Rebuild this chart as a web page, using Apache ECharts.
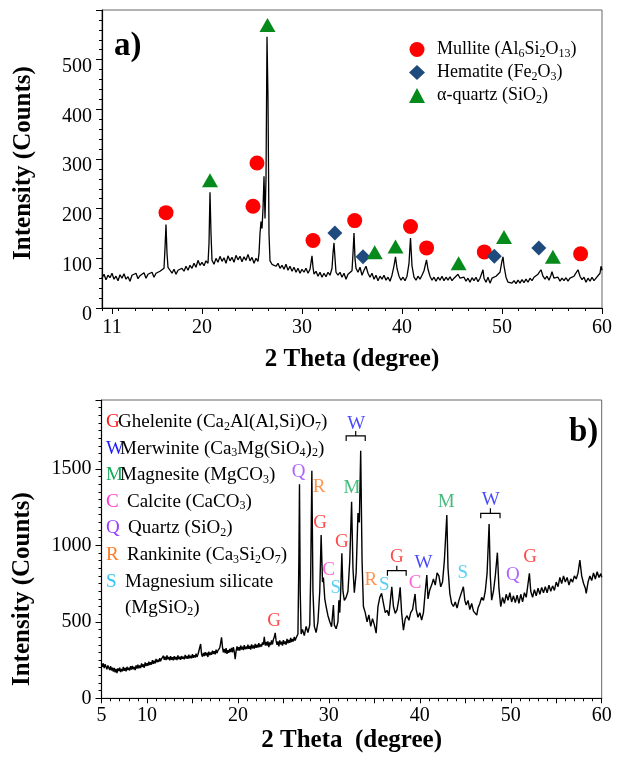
<!DOCTYPE html>
<html><head><meta charset="utf-8">
<script src="https://cdn.jsdelivr.net/npm/echarts@6/dist/echarts.min.js"></script>
<style>html,body{margin:0;padding:0;background:#fff}#c{width:620px;height:758px}</style>
</head><body><div id="c"></div>
<script>
const FONT = '"Liberation Serif", "Times New Roman", serif';

// ---------- panel a) ----------
const patternA = [
[10.0,60],[10.2,68],[10.4,57],[10.6,66],[10.8,61],[11.0,70],[11.2,58],[11.4,64],[11.6,55],[11.8,67],
[12.0,60],[12.2,69],[12.4,58],[12.6,63],[12.8,54],[13.0,66],[13.2,62],[13.4,70],[13.6,59],[13.8,65],
[14.0,63],[14.2,71],[14.4,60],[14.6,68],[14.8,64],[15.0,72],[15.2,62],[15.4,70],[15.6,66],[15.8,74],
[16.0,70],[16.2,80],[16.3,120],[16.4,168],[16.5,110],[16.6,82],[16.8,76],[17.0,70],[17.2,78],[17.4,68],
[17.6,76],[17.8,72],[18.0,80],[18.2,74],[18.4,84],[18.6,76],[18.8,86],[19.0,80],[19.2,90],[19.4,82],
[19.6,96],[19.8,86],[20.0,92],[20.2,85],[20.4,95],[20.6,90],[20.7,130],[20.8,233],[20.9,150],[21.0,96],
[21.2,88],[21.4,100],[21.6,92],[21.8,104],[22.0,94],[22.2,101],[22.4,90],[22.6,105],[22.8,95],[23.0,102],
[23.2,92],[23.4,106],[23.6,97],[23.8,104],[24.0,93],[24.2,103],[24.4,96],[24.6,108],[24.8,95],[25.0,102],
[25.2,90],[25.4,100],[25.6,94],[25.7,110],[25.8,150],[25.9,174],[26.0,160],[26.1,200],[26.2,265],[26.3,180],
[26.4,260],[26.5,546],[26.6,420],[26.7,150],[26.8,95],[27.0,88],[27.2,92],[27.4,84],[27.6,90],[27.8,80],
[28.0,86],[28.2,78],[28.4,88],[28.6,76],[28.8,84],[29.0,74],[29.2,82],[29.4,72],[29.6,80],[29.8,70],
[30.0,78],[30.2,72],[30.4,80],[30.6,70],[30.8,78],[31.0,105],[31.1,82],[31.2,68],[31.4,74],[31.6,64],
[31.8,72],[32.0,62],[32.2,70],[32.4,63],[32.6,72],[32.8,66],[33.0,80],[33.1,110],[33.2,131],[33.3,100],
[33.4,72],[33.6,66],[33.8,72],[34.0,62],[34.2,70],[34.4,58],[34.6,68],[34.8,64],[35.0,75],[35.1,110],
[35.2,151],[35.3,100],[35.4,80],[35.6,72],[35.8,82],[36.0,66],[36.2,76],[36.4,84],[36.6,70],[36.8,62],
[37.0,70],[37.2,58],[37.4,66],[37.6,55],[37.8,64],[38.0,58],[38.2,66],[38.4,56],[38.6,62],[38.8,54],
[39.0,66],[39.2,85],[39.35,103],[39.5,80],[39.7,64],[39.9,56],[40.1,62],[40.3,55],[40.5,64],[40.7,90],
[40.85,141],[41.0,85],[41.2,62],[41.4,56],[41.6,64],[41.8,58],[42.0,66],[42.2,75],[42.45,97],[42.6,78],
[42.8,64],[43.0,56],[43.2,62],[43.4,54],[43.6,62],[43.8,56],[44.0,64],[44.2,55],[44.4,62],[44.6,56],
[44.8,63],[45.0,55],[45.2,60],[45.4,63],[45.6,68],[45.8,60],[46.0,56],[46.2,62],[46.4,54],[46.6,60],
[46.8,52],[47.0,61],[47.2,55],[47.4,62],[47.6,53],[47.8,60],[48.0,58],[48.1,77],[48.2,60],[48.4,52],
[48.6,62],[48.8,50],[49.0,60],[49.2,56],[49.4,64],[49.6,60],[49.8,72],[50.0,95],[50.1,103],[50.2,85],
[50.4,62],[50.6,52],[50.8,56],[51.0,50],[51.2,55],[51.4,49],[51.6,56],[51.8,50],[52.0,57],[52.2,51],
[52.4,58],[52.6,52],[52.8,60],[53.0,55],[53.2,62],[53.4,60],[53.6,68],[53.8,72],[53.9,77],[54.1,64],
[54.3,58],[54.5,64],[54.7,56],[54.9,66],[55.0,73],[55.2,60],[55.4,56],[55.6,62],[55.8,54],[56.0,60],
[56.2,55],[56.4,61],[56.6,54],[56.8,60],[57.0,56],[57.2,64],[57.4,68],[57.6,77],[57.8,64],[58.0,57],
[58.2,62],[58.4,52],[58.6,60],[58.8,54],[59.0,62],[59.2,55],[59.4,60],[59.6,56],[59.8,70],[59.9,84],[60.0,76]
];
const mullite  = [[16.4,192],[25.1,205],[25.5,292],[31.1,136],[35.27,176],[40.85,164],[42.46,121],[48.23,113],[57.86,109]];
const hematite = [[33.29,151],[36.1,103],[49.23,104],[53.68,121]];
const quartz   = [[20.8,257],[26.55,570],[37.27,112],[39.35,124],[45.66,90],[50.2,143],[55.09,103]];
const xLabelsA = [11,20,30,40,50,60];

// ---------- panel b) ----------
const patternB = [
[5.0,230],[5.1,205],[5.2,228],[5.3,198],[5.4,222],[5.5,212],[5.6,190],[5.7,215],[5.8,200],[5.9,185],
[6.0,210],[6.1,182],[6.2,200],[6.3,175],[6.4,198],[6.5,170],[6.6,192],[6.7,165],[6.8,195],[6.9,178],
[7.0,200],[7.1,172],[7.2,192],[7.3,176],[7.4,205],[7.5,180],[7.6,198],[7.7,176],[7.8,206],[7.9,185],
[8.0,200],[8.1,182],[8.2,210],[8.3,188],[8.4,212],[8.5,190],[8.6,205],[8.7,185],[8.8,215],[8.9,195],
[9.0,220],[9.1,196],[9.2,215],[9.3,198],[9.4,228],[9.5,205],[9.6,222],[9.7,200],[9.8,235],[9.9,210],
[10.0,230],[10.1,212],[10.2,240],[10.3,218],[10.4,236],[10.5,220],[10.6,250],[10.7,226],[10.8,246],[10.9,228],
[11.0,258],[11.1,235],[11.2,252],[11.3,238],[11.4,262],[11.5,242],[11.6,258],[11.7,250],[11.8,278],[11.9,252],
[12.0,272],[12.1,250],[12.2,280],[12.3,255],[12.4,270],[12.5,248],[12.6,276],[12.7,252],[12.8,268],[12.9,248],
[13.0,275],[13.1,254],[13.2,270],[13.3,250],[13.4,280],[13.5,256],[13.6,272],[13.7,252],[13.8,276],[13.9,258],
[14.0,272],[14.1,255],[14.2,284],[14.3,260],[14.4,276],[14.5,258],[14.6,285],[14.7,262],[14.8,278],[14.9,262],
[15.0,288],[15.1,265],[15.2,282],[15.3,266],[15.4,292],[15.5,270],[15.6,285],[15.7,272],[15.8,296],[15.9,355],
[16.0,290],[16.1,272],[16.2,296],[16.3,276],[16.4,302],[16.5,280],[16.6,298],[16.7,270],[16.8,305],[16.9,282],
[17.0,300],[17.1,284],[17.2,312],[17.3,290],[17.4,308],[17.5,288],[17.6,318],[17.7,295],[17.8,312],[17.9,300],
[18.0,330],[18.1,360],[18.2,398],[18.3,335],[18.4,300],[18.5,322],[18.6,296],[18.7,328],[18.8,290],[18.9,315],
[19.0,298],[19.1,322],[19.2,302],[19.3,330],[19.4,300],[19.5,335],[19.6,305],[19.7,255],[19.8,308],[19.9,340],
[20.0,312],[20.1,335],[20.2,312],[20.3,345],[20.4,318],[20.5,338],[20.6,315],[20.7,348],[20.8,320],[20.9,338],
[21.0,322],[21.1,350],[21.2,324],[21.3,342],[21.4,318],[21.5,352],[21.6,326],[21.7,345],[21.8,325],[21.9,355],
[22.0,330],[22.1,350],[22.2,332],[22.3,360],[22.4,335],[22.5,352],[22.6,338],[22.7,365],[22.8,350],[22.9,402],
[23.0,345],[23.1,368],[23.2,345],[23.3,372],[23.4,335],[23.5,365],[23.6,348],[23.7,378],[23.8,352],[23.9,385],
[24.0,400],[24.1,428],[24.2,375],[24.3,350],[24.4,372],[24.5,340],[24.6,378],[24.7,352],[24.8,370],[24.9,345],
[25.0,380],[25.1,355],[25.2,372],[25.3,350],[25.4,388],[25.5,360],[25.6,382],[25.7,362],[25.8,395],[25.9,368],
[26.0,388],[26.1,372],[26.2,402],[26.3,378],[26.4,395],[26.5,382],[26.6,420],
[26.7,900],[26.77,1400],[26.85,700],[26.95,420],[27.1,450],[27.3,410],[27.5,470],[27.7,430],
[27.9,480],[28.0,800],[28.13,1488],[28.25,700],[28.4,470],[28.6,430],[28.8,500],[29.0,700],[29.15,1067],[29.3,760],
[29.4,790],[29.55,650],[29.7,600],[29.9,540],[30.1,500],[30.3,468],[30.5,610],[30.6,480],[30.8,455],[31.0,500],
[31.1,640],[31.2,560],[31.3,700],[31.43,948],[31.55,700],[31.7,640],[31.9,660],[32.1,700],[32.3,900],[32.5,1285],
[32.65,850],[32.8,690],[33.0,820],[33.2,1211],[33.35,1150],[33.5,1618],[33.65,900],[33.8,600],[34.0,560],[34.2,500],
[34.4,545],[34.6,470],[34.8,520],[35.0,480],[35.2,426],[35.4,600],[35.6,660],[35.8,686],[36.0,620],[36.2,560],
[36.4,575],[36.6,540],[36.8,660],[36.92,729],[37.1,600],[37.3,555],[37.5,580],[37.7,650],[37.84,725],[38.0,560],
[38.2,446],[38.4,520],[38.6,540],[38.8,510],[39.0,560],[39.2,580],[39.48,682],[39.6,580],[39.8,530],[40.0,560],
[40.2,512],[40.4,560],[40.6,700],[40.77,806],[40.9,650],[41.1,710],[41.3,740],[41.5,780],[41.7,740],[41.9,820],
[42.1,800],[42.3,729],[42.5,760],[42.7,900],[42.97,1198],[43.1,850],[43.3,686],[43.5,620],[43.7,600],[43.9,630],
[44.1,590],[44.3,640],[44.5,650],[44.79,729],[44.95,640],[45.1,610],[45.3,640],[45.5,580],[45.7,620],[45.9,570],
[46.1,560],[46.26,544],[46.4,590],[46.6,620],[46.8,660],[47.0,640],[47.2,700],[47.4,820],[47.62,1139],[47.75,800],
[47.9,642],[48.1,700],[48.3,800],[48.53,952],[48.7,720],[48.9,599],[49.1,660],[49.3,620],[49.5,680],[49.7,640],
[49.9,690],[50.1,630],[50.3,670],[50.5,625],[50.7,675],[50.9,620],[51.1,680],[51.3,630],[51.5,690],[51.7,660],
[52.05,817],[52.2,700],[52.4,660],[52.6,710],[52.8,670],[53.0,720],[53.2,680],[53.4,725],[53.6,690],[53.8,730],
[54.0,690],[54.2,740],[54.4,700],[54.6,735],[54.8,705],[55.0,760],[55.2,730],[55.4,790],[55.6,750],[55.8,800],
[56.0,760],[56.2,790],[56.4,740],[56.6,780],[56.8,760],[57.0,800],[57.2,780],[57.4,820],[57.6,904],[57.8,800],
[58.0,752],[58.2,720],[58.3,686],[58.5,760],[58.7,800],[58.9,770],[59.1,820],[59.3,780],[59.5,827],[59.7,790],
[59.9,815],[60.0,790]
];
const labelsG = [[23.99,507],[29.04,1148],[31.43,1024],[37.47,925],[52.12,921]];
const labelsW = [[33.0,1793],[40.4,882],[47.8,1296]];
const labelsM = [[32.53,1372],[42.89,1285]];
const labelsC = [[29.96,838],[39.48,756]];
const labelsQ = [[26.66,1481],[50.22,806]];
const labelsR = [[28.93,1379],[34.62,773]];
const labelsS = [[30.77,719],[36.08,740],[44.73,821]];
const bracketsB = [[31.9,34.0,1715],[36.44,38.5,834],[46.7,48.82,1209]];

const phaseNames = ['G','W','M','C','Q','R','S'];
const phaseData = {G:labelsG, W:labelsW, M:labelsM, C:labelsC, Q:labelsQ, R:labelsR, S:labelsS};
const phaseColors = {G:'#ff1a1a', W:'#1a1aff', M:'#14aa5a', C:'#ff3ad2', Q:'#9a3cff', R:'#ff7a22', S:'#2ec4f4'};
const phaseText = {
  G:'{G|G}Ghelenite (Ca{s|2}Al(Al,Si)O{s|7})',
  W:'{W|W}Merwinite (Ca{s|3}Mg(SiO{s|4}){s|2})',
  M:'{M|M}Magnesite (MgCO{s|3})',
  C:'{C|C}Calcite (CaCO{s|3})',
  Q:'{Q|Q}Quartz (SiO{s|2})',
  R:'{R|R}Rankinite (Ca{s|3}Si{s|2}O{s|7})',
  S:'{S|S}Magnesium silicate\n{ind| }(MgSiO{s|2})'
};
const legendAText = {
  'Mullite':'Mullite (Al{s|6}Si{s|2}O{s|13})',
  'Hematite':'Hematite (Fe{s|2}O{s|3})',
  'α-quartz':'α-quartz (SiO{s|2})'
};

const axisLine = {show:true, lineStyle:{color:'#000', width:1.2}};
const tickLabel = {color:'#000', fontFamily:FONT, fontSize:20};
const titleStyle = {color:'#000', fontFamily:FONT, fontSize:25, fontWeight:'bold'};

const richB = {s:{fontSize:12, fontFamily:FONT, padding:[9,0,0,0]}, ind:{width:19}};
const letterW = {G:12, W:14, M:14, C:21, Q:22, R:21, S:19};
phaseNames.forEach(p => { richB[p] = {color:phaseColors[p], width:letterW[p], fontFamily:FONT, fontSize:19}; });

const series = [
  {type:'line', xAxisIndex:0, yAxisIndex:0, data:patternA, showSymbol:false, symbol:'none',
   lineStyle:{color:'#000', width:1.3}, z:2, silent:true},
  {name:'Mullite', type:'scatter', xAxisIndex:0, yAxisIndex:0, data:mullite, symbol:'circle', symbolSize:15,
   itemStyle:{color:'#ff0000', opacity:1}, z:3},
  {name:'Hematite', type:'scatter', xAxisIndex:0, yAxisIndex:0, data:hematite, symbol:'diamond', symbolSize:[15,15],
   itemStyle:{color:'#1f4a7e', opacity:1}, z:3},
  {name:'α-quartz', type:'scatter', xAxisIndex:0, yAxisIndex:0, data:quartz, symbol:'triangle', symbolSize:[16,14],
   itemStyle:{color:'#078a1c', opacity:1}, z:3},
  {type:'line', xAxisIndex:2, yAxisIndex:1, data:patternB, showSymbol:false, symbol:'none',
   lineStyle:{color:'#000', width:1.4}, z:2, silent:true}
];
phaseNames.forEach(p => {
  series.push({name:p, type:'scatter', xAxisIndex:2, yAxisIndex:1, data:phaseData[p], symbolSize:1,
    itemStyle:{color:'rgba(0,0,0,0)'}, z:4,
    label:{show:true, position:'inside', formatter:p, color:phaseColors[p], fontFamily:FONT, fontSize:19}});
});
series.push({type:'custom', xAxisIndex:2, yAxisIndex:1, data:bracketsB, encode:{x:[0,1], y:2}, z:4,
  renderItem:function(params, api){
    const a = api.coord([api.value(0), api.value(2)]);
    const b = api.coord([api.value(1), api.value(2)]);
    const m = (a[0]+b[0])/2;
    return {type:'group', children:[
      {type:'polyline', shape:{points:[[a[0],a[1]+5],[a[0],a[1]],[b[0],b[1]],[b[0],b[1]+5]]}, style:{stroke:'#000', lineWidth:1.2, fill:null}},
      {type:'line', shape:{x1:m, y1:a[1], x2:m, y2:a[1]-5}, style:{stroke:'#000', lineWidth:1.2}}
    ]};
  }});

const option = {
  animation:false,
  backgroundColor:'#fff',
  title:[
    {text:'a)', left:109, top:25, textStyle:{color:'#000', fontFamily:FONT, fontSize:33, fontWeight:'bold'}},
    {text:'b)', left:564, top:411, textStyle:{color:'#000', fontFamily:FONT, fontSize:33, fontWeight:'bold'}}
  ],
  legend:[
    {data:['Mullite','Hematite','α-quartz'], orient:'vertical', left:404, top:33, itemWidth:16, itemHeight:15, itemGap:0,
     selectedMode:false, formatter:n => legendAText[n],
     textStyle:{color:'#000', fontFamily:FONT, fontSize:18, lineHeight:23, padding:[0,0,0,7],
       rich:{s:{fontSize:12, fontFamily:FONT, padding:[8,0,0,0]}}}},
    {data:phaseNames, orient:'vertical', left:100, top:409, padding:0, icon:'rect', itemWidth:1, itemHeight:1, itemGap:0.6,
     itemStyle:{color:'rgba(0,0,0,0)', borderWidth:0}, selectedMode:false, formatter:n => phaseText[n],
     textStyle:{color:'#000', fontFamily:FONT, fontSize:19, lineHeight:26, rich:richB}}
  ],
  grid:[
    {left:102, right:18, top:10, height:298, show:true, borderColor:'#666', borderWidth:1},
    {left:101.5, right:18.3, top:400, height:298.3, show:true, borderColor:'#666', borderWidth:1}
  ],
  xAxis:[
    {gridIndex:0, type:'value', position:'bottom', min:10, max:60, axisLine:axisLine,
     axisTick:{show:true, customValues:xLabelsA, length:6, lineStyle:{color:'#000'}},
     axisLabel:Object.assign({customValues:xLabelsA, margin:10}, tickLabel), splitLine:{show:false},
     name:'2 Theta (degree)', nameLocation:'middle', nameGap:39, nameTextStyle:titleStyle},
    {gridIndex:0, type:'value', position:'bottom', min:10, max:60, interval:10/6, axisLine:{show:false},
     axisTick:{show:true, length:3, lineStyle:{color:'#000'}}, axisLabel:{show:false}, splitLine:{show:false}},
    {gridIndex:1, type:'value', position:'bottom', min:5, max:60, interval:5, axisLine:axisLine,
     axisTick:{show:true, length:5, lineStyle:{color:'#000'}},
     minorTick:{show:true, splitNumber:5, length:3, lineStyle:{color:'#000'}},
     axisLabel:Object.assign({margin:7, formatter:v => (v % 10 === 5 && v !== 5) ? '' : String(v)}, tickLabel),
     splitLine:{show:false},
     name:'2 Theta  (degree)', nameLocation:'middle', nameGap:30, nameTextStyle:titleStyle}
  ],
  yAxis:[
    {gridIndex:0, type:'value', min:0, max:600, interval:100, axisLine:axisLine,
     axisTick:{show:true, length:6, lineStyle:{color:'#000'}},
     minorTick:{show:true, splitNumber:5, length:3, lineStyle:{color:'#000'}},
     axisLabel:Object.assign({margin:10, showMaxLabel:false, verticalAlign:'top', lineHeight:14, formatter:v => String(v)}, tickLabel),
     splitLine:{show:false},
     name:'Intensity (Counts)', nameLocation:'middle', nameGap:66,
     nameTextStyle:Object.assign({padding:[0,8,0,0]}, titleStyle)},
    {gridIndex:1, type:'value', min:0, max:1950, interval:500, axisLine:axisLine,
     axisTick:{show:true, length:6, lineStyle:{color:'#000'}},
     minorTick:{show:true, splitNumber:10, length:3, lineStyle:{color:'#000'}},
     axisLabel:Object.assign({margin:10, showMaxLabel:false, formatter:v => String(v)}, tickLabel),
     splitLine:{show:false},
     name:'Intensity (Counts)', nameLocation:'middle', nameGap:66,
     nameTextStyle:Object.assign({padding:[0,80,0,0]}, titleStyle)}
  ],
  series:series
};
const chart = echarts.init(document.getElementById('c'), null, {renderer:'canvas'});
chart.setOption(option);
</script>
</body></html>
